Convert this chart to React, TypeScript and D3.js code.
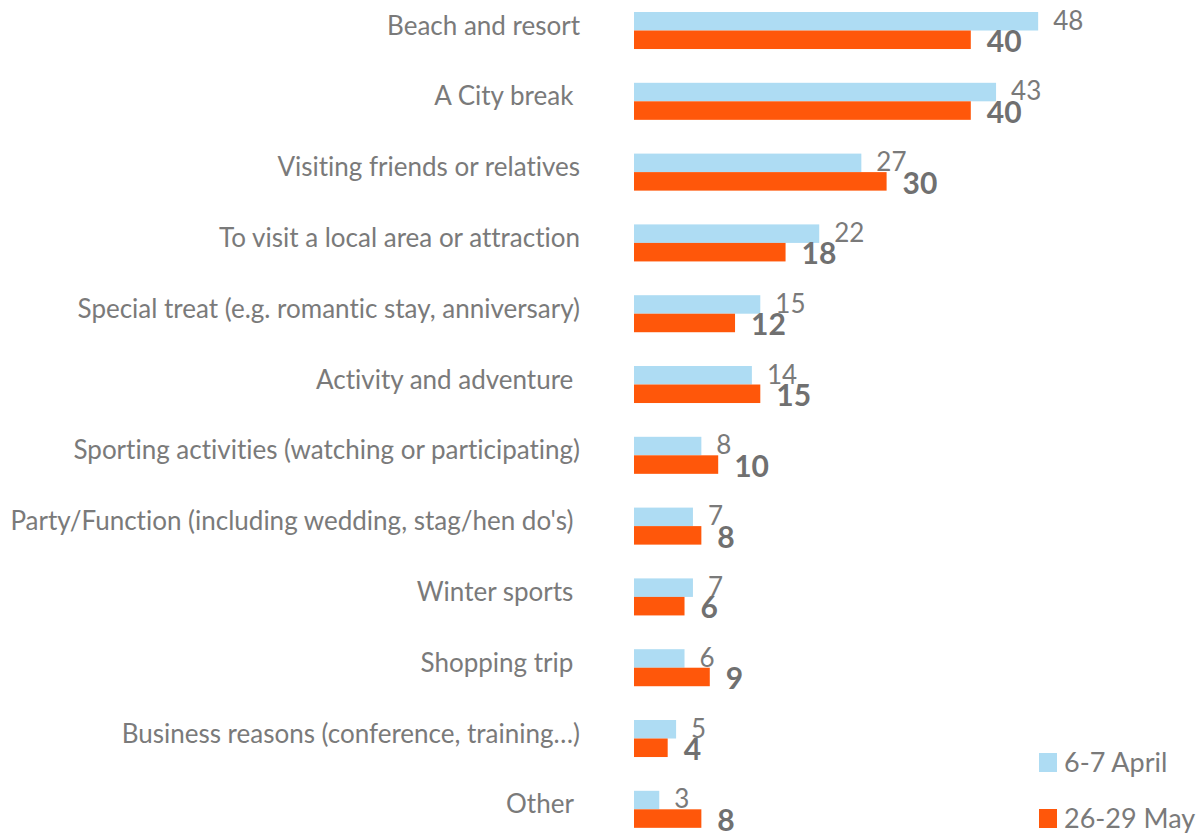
import * as d3 from "d3";

const categories = [
  "Beach and resort",
  "A City break ",
  "Visiting friends or relatives",
  "To visit a local area or attraction",
  "Special treat (e.g. romantic stay, anniversary)",
  "Activity and adventure ",
  "Sporting activities (watching or participating)",
  "Party/Function (including wedding, stag/hen do's) ",
  "Winter sports ",
  "Shopping trip ",
  "Business reasons (conference, training…)",
  "Other ",
];
const april = [48, 43, 27, 22, 15, 14, 8, 7, 7, 6, 5, 3];
const may = [40, 40, 30, 18, 12, 15, 10, 8, 6, 9, 4, 8];
const seriesNames = ["6-7 April", "26-29 May"];
const seriesColors = ["#aedcf3", "#ff570a"];

const W = 1204;
const H = 836;
const FONT = "Lato, 'Open Sans', sans-serif";

function App() {
  const y = d3
    .scaleBand<string>()
    .domain(categories)
    .range([12, 12 + 70.8 * (categories.length - 0.477)])
    .paddingInner(0.477)
    .paddingOuter(0);
  const sub = d3
    .scaleBand<string>()
    .domain(seriesNames)
    .range([0, y.bandwidth()]);
  const x = d3.scaleLinear().domain([0, 50]).range([634, 634 + 50 * 8.42]);

  const series = [april, may];

  return (
    <svg
      width={W}
      height={H}
      style={{
        position: "absolute",
        left: 0,
        top: 0,
        background: "#fff",
        fontVariantLigatures: "none",
      }}
      fontFamily={FONT}
    >
      {categories.map((c, i) => {
        const gy = y(c) as number;
        return (
          <g key={c}>
            <text
              x={580}
              y={gy + y.bandwidth() / 2 - 5}
              dy="0.35em"
              textAnchor="end"
              fontSize={26}
              fill="#7a7a7a"
              style={{ whiteSpace: "pre" }}
            >
              {c}
            </text>
            {series.map((vals, s) => {
              const by = gy + (sub(seriesNames[s]) as number);
              return (
                <rect
                  key={s}
                  x={x(0)}
                  y={by}
                  width={x(vals[i]) - x(0)}
                  height={sub.bandwidth()}
                  fill={seriesColors[s]}
                />
              );
            })}
            <text
              x={x(april[i]) + 15}
              y={gy + sub.bandwidth() - 1}
              fontSize={26}
              fill="#7a7a7a"
            >
              {april[i]}
            </text>
            <text
              x={x(may[i]) + 16}
              y={gy + 2 * sub.bandwidth() + 3}
              fontSize={30}
              fontWeight="bold"
              fill="#707070"
            >
              {may[i]}
            </text>
          </g>
        );
      })}
      {seriesNames.map((n, s) => (
        <g key={n} transform={`translate(1039, ${753 + s * 56})`}>
          <rect width={18} height={19} fill={seriesColors[s]} />
          <text x={25} y={19} fontSize={27} fill="#7a7a7a">
            {n}
          </text>
        </g>
      ))}
    </svg>
  );
}

export default App;
